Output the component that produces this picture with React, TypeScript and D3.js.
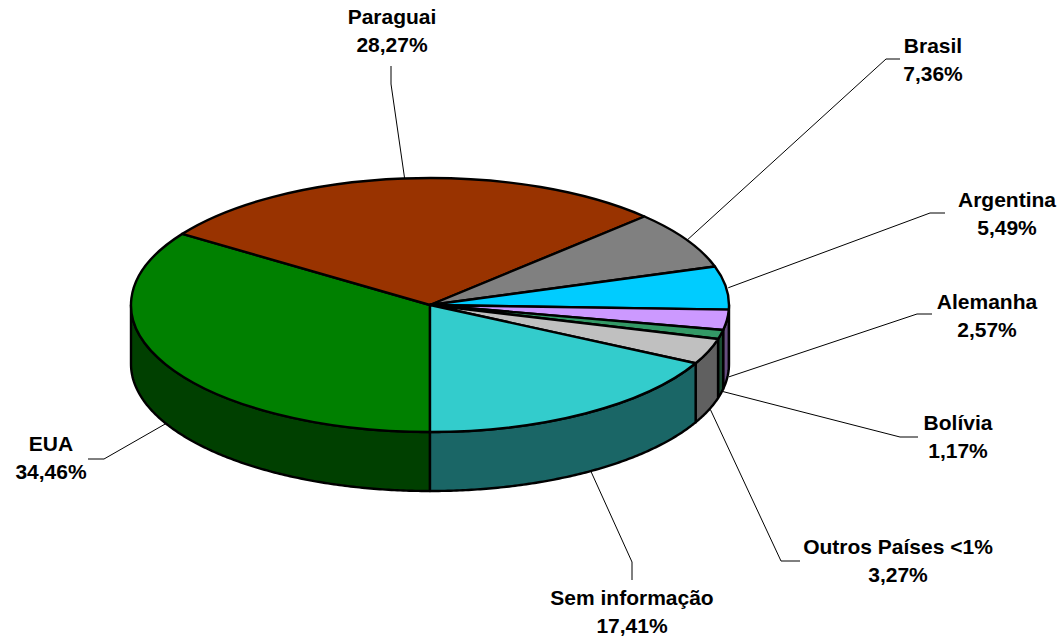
import React from "react";
import * as d3 from "d3";

const categories = ["EUA", "Paraguai", "Brasil", "Argentina", "Alemanha", "Bolívia", "Outros Países <1%", "Sem informação"];
const values = [34.46, 28.27, 7.36, 5.49, 2.57, 1.17, 3.27, 17.41];
const colors = ["#008000", "#993300", "#808080", "#00ccff", "#cc99ff", "#339966", "#c0c0c0", "#33cccc"];

const width = 1062;
const height = 640;
const cx = 430;
const cy = 305;
const rx = 299;
const ry = 127;
const depth = 59;

// label layout, same order as categories: nudge of the leader start, elbow, end of the leader, text centre and first baseline
const labelLayout = [
  { nudge: [0, 0], elbow: [104, 459], end: [88, 459], x: 51, y: 451 },
  { nudge: [1, 0], elbow: [391, 84], end: [391, 66], x: 392, y: 24 },
  { nudge: [1, 0], elbow: [886, 59], end: [900, 59], x: 933, y: 53 },
  { nudge: [2, 0], elbow: [930, 213], end: [945, 213], x: 1007, y: 207 },
  { nudge: [2, -2], elbow: [917, 314], end: [932, 314], x: 987, y: 309 },
  { nudge: [2, -2], elbow: [900, 437], end: [918, 437], x: 958, y: 430 },
  { nudge: [2, -1], elbow: [781, 561], end: [800, 561], x: 898, y: 554 },
  { nudge: [5, -2], elbow: [632, 562], end: [632, 580], x: 632, y: 605 },
];

const visibleWall: [number, number][] = [
  [Math.PI, 1.5 * Math.PI],
  [2.5 * Math.PI, 3 * Math.PI],
];

const px = (a: number) => cx + rx * Math.sin(a);
const py = (a: number) => cy - ry * Math.cos(a);

const pieGen = d3
  .pie<number>()
  .sort(null)
  .startAngle(Math.PI)
  .endAngle(3 * Math.PI);

const arcGen = d3.arc<d3.PieArcDatum<number>>().innerRadius(0).outerRadius(rx);
const lineGen = d3.line<number[]>();

function wallPath(a0: number, a1: number) {
  const n = Math.max(2, Math.ceil((a1 - a0) / 0.01));
  const angles = d3.range(n + 1).map((i) => a0 + ((a1 - a0) * i) / n);
  const upper = angles.map((a) => [px(a), py(a)]);
  const lower = angles.map((a) => [px(a), py(a) + depth]).reverse();
  return lineGen([...upper, ...lower]) + "Z";
}

// leader starts on the rim at the slice middle: the top edge at the back, the wall bottom at the front
function leaderStart(mid: number, nudge: number[]) {
  const front = Math.cos(mid) < 0;
  return [px(mid) + nudge[0], py(mid) + (front ? depth : 0) + nudge[1]];
}

export default function App() {
  const slices = pieGen(values);
  const textStyle = { fontFamily: "'Liberation Sans', Arial, sans-serif", fontWeight: 700, fontSize: 21 };

  return (
    <svg width={width} height={height} style={{ position: "absolute", left: 0, top: 0, background: "#fff" }}>
      {slices.map((s, i) =>
        visibleWall.map(([lo, hi], j) => {
          const a0 = Math.max(s.startAngle, lo);
          const a1 = Math.min(s.endAngle, hi);
          if (a1 <= a0) return null;
          return (
            <path
              key={`wall-${i}-${j}`}
              d={wallPath(a0, a1)}
              fill={d3.interpolateRgb(colors[i], "#000")(0.5)}
              stroke="#000"
              strokeWidth={2.4}
              strokeLinejoin="round"
            />
          );
        })
      )}
      <g transform={`translate(${cx},${cy}) scale(1,${ry / rx})`}>
        {slices.map((s, i) => (
          <path
            key={`top-${i}`}
            d={arcGen(s) as string}
            fill={colors[i]}
            stroke="#000"
            strokeWidth={2.4}
            strokeLinejoin="round"
            vectorEffect="non-scaling-stroke"
          />
        ))}
      </g>
      {slices.map((s, i) => {
        const mid = (s.startAngle + s.endAngle) / 2;
        const l = labelLayout[i];
        return (
          <g key={`label-${i}`}>
            <path
              d={lineGen([leaderStart(mid, l.nudge), l.elbow, l.end]) as string}
              fill="none"
              stroke="#000"
              strokeWidth={1}
            />
            <text x={l.x} y={l.y} textAnchor="middle" fill="#000" style={textStyle}>
              {categories[i]}
            </text>
            <text x={l.x} y={l.y + 28} textAnchor="middle" fill="#000" style={textStyle}>
              {values[i].toFixed(2).replace(".", ",") + "%"}
            </text>
          </g>
        );
      })}
    </svg>
  );
}
